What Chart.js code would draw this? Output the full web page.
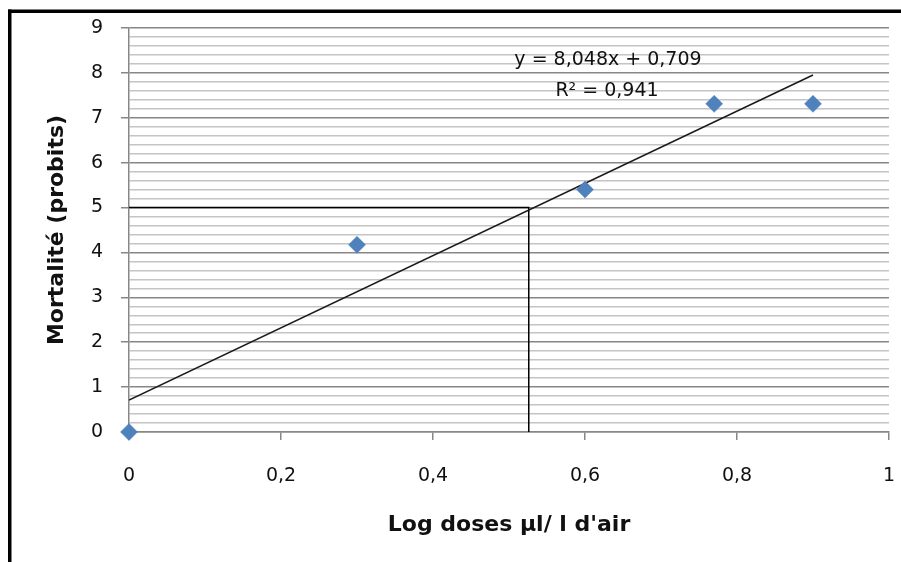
<!DOCTYPE html>
<html>
<head>
<meta charset="utf-8">
<script src="https://cdn.jsdelivr.net/npm/chart.js@4.4.0/dist/chart.umd.min.js"></script>
<style>
  html, body { margin: 0; padding: 0; background: #fff; }
  canvas { display: block; }
</style>
</head>
<body>
<canvas id="probit-chart" width="901" height="562"></canvas>
<script>
// Mortalité (probits) en fonction du log des doses
const logDoses = [0, 0.3, 0.6, 0.77, 0.9];
const probits = [0, 4.17, 5.4, 7.31, 7.31];

// droite de tendance y = 8,048x + 0,709 (extrémités)
const trendX = [0, 0.9];
const trendY = [0.709, 7.952];

// lecture de la DL50 (probit 5)
const lc50X = [0, 0.526, 0.526];
const lc50Y = [5, 5, 0];

const xTicks = [0, 0.2, 0.4, 0.6, 0.8, 1];
const yTicks = [0, 1, 2, 3, 4, 5, 6, 7, 8, 9];

const equationText = 'y = 8,048x + 0,709';
const r2Text = 'R² = 0,941';

const toPoints = (xs, ys) => xs.map((x, i) => ({ x: x, y: ys[i] }));
const isMajor = v => Math.abs(v - Math.round(v)) < 1e-6;
const fmt = v => String(+v.toFixed(1)).replace('.', ',');

const tickFont = { family: 'DejaVu Sans', size: 19 };
const titleFont = { family: 'DejaVu Sans', size: 22, weight: 'bold' };

// cadre noir + équation
const framePlugin = {
  id: 'frame',
  afterDraw(chart) {
    const ctx = chart.ctx;
    ctx.save();
    ctx.fillStyle = '#000';
    ctx.fillRect(8, 9.5, 893, 3.5);
    ctx.fillRect(8, 9.5, 3.5, 553);
    ctx.fillStyle = '#111';
    ctx.font = '19px "DejaVu Sans"';
    ctx.textAlign = 'center';
    ctx.textBaseline = 'alphabetic';
    ctx.fillText(equationText, 608, 65);
    ctx.fillText(r2Text, 607, 96);
    ctx.restore();
  }
};

new Chart(document.getElementById('probit-chart').getContext('2d'), {
  type: 'scatter',
  data: {
    datasets: [
      {
        label: 'Mortalité',
        data: toPoints(logDoses, probits),
        pointStyle: 'rectRot',
        pointRadius: 8.5,
        pointHoverRadius: 8.5,
        backgroundColor: '#4F81BD',
        borderColor: '#4F81BD',
        borderWidth: 0.5,
        clip: false,
        order: 0
      },
      {
        label: 'Tendance',
        data: toPoints(trendX, trendY),
        showLine: true,
        borderColor: '#1a1a1a',
        borderWidth: 1.5,
        pointRadius: 0,
        order: 1
      },
      {
        label: 'DL50',
        data: toPoints(lc50X, lc50Y),
        showLine: true,
        borderColor: '#000',
        borderWidth: 1.5,
        pointRadius: 0,
        order: 2
      }
    ]
  },
  options: {
    responsive: false,
    animation: false,
    layout: { padding: { left: 0, top: 28, right: 12, bottom: 0 } },
    plugins: {
      legend: { display: false },
      tooltip: { enabled: false }
    },
    scales: {
      x: {
        type: 'linear',
        min: xTicks[0],
        max: xTicks[xTicks.length - 1],
        afterFit(scale) {
          scale.height = 130;
          scale.paddingLeft = 0;
          scale.paddingRight = 0;
        },
        ticks: {
          stepSize: 0.2,
          color: '#111',
          font: tickFont,
          padding: 25,
          callback: v => fmt(v)
        },
        grid: {
          drawOnChartArea: false,
          tickLength: 8,
          tickColor: '#878787',
          lineWidth: 1.5
        },
        border: { color: '#878787', width: 1.5 },
        title: {
          display: true,
          text: "Log doses µl/ l d'air",
          color: '#111',
          font: titleFont,
          padding: { top: 0, bottom: 24 }
        }
      },
      y: {
        type: 'linear',
        min: yTicks[0],
        max: yTicks[yTicks.length - 1],
        afterFit(scale) {
          scale.width = 129;
          scale.paddingTop = 0;
          scale.paddingBottom = 0;
        },
        ticks: {
          stepSize: 0.2,
          autoSkip: false,
          color: '#111',
          font: tickFont,
          padding: 18,
          callback: v => (isMajor(v) ? String(Math.round(v)) : '')
        },
        grid: {
          color: ctx => (isMajor(ctx.tick.value) ? '#878787' : '#c4c4c4'),
          tickColor: ctx => (isMajor(ctx.tick.value) ? '#878787' : 'rgba(0,0,0,0)'),
          lineWidth: 1.5,
          tickLength: 8
        },
        border: { color: '#878787', width: 1.5 },
        title: {
          display: true,
          text: 'Mortalité (probits)',
          color: '#111',
          font: titleFont,
          padding: { top: 44, bottom: 0 }
        }
      }
    }
  },
  plugins: [framePlugin]
});
</script>
</body>
</html>
